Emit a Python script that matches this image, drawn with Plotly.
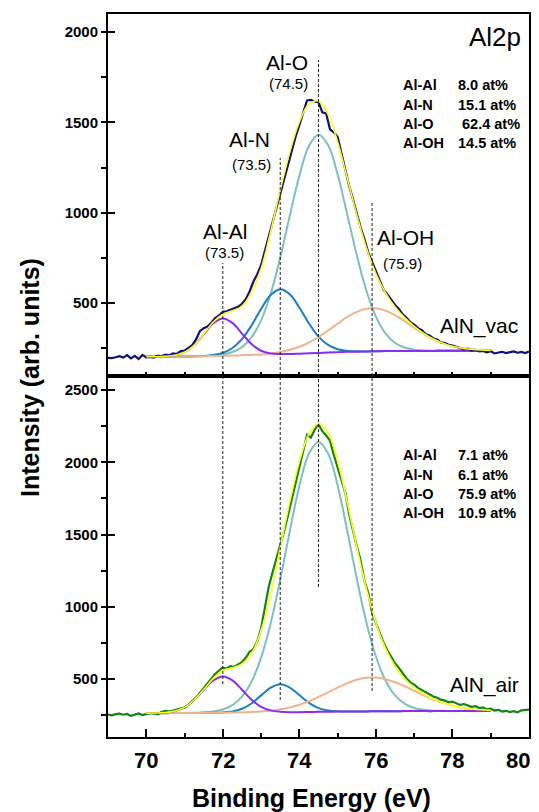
import plotly.graph_objects as go

# ---------------- data ----------------
FIT_START, FIT_STEP, FIT_N = 70.0, 0.25, 37
RAW_START, RAW_STEP, RAW_N = 69.0, 0.1, 111
fit_energy = [round(FIT_START + FIT_STEP * i, 2) for i in range(FIT_N)]
raw_energy = [round(RAW_START + RAW_STEP * i, 2) for i in range(RAW_N)]

x_tick_vals = [70, 72, 74, 76, 78, 80]
x_tick_text = ["70", "72", "74", "76", "78", "80"]

# AlN_vac (upper panel)
vac_raw = [198, 196, 201, 207, 199, 213, 195, 209, 191, 214,
           200, 203, 199, 210, 206, 215, 211, 222, 219, 235,
           238, 251, 268, 300, 345, 362, 371, 392, 418, 432,
           452, 455, 463, 472, 480, 497, 522, 565, 620, 660,
           710, 790, 870, 950, 1020, 1095, 1185, 1270, 1340, 1420,
           1485, 1560, 1622, 1625, 1616, 1612, 1556, 1550, 1462, 1445,
           1420, 1330, 1235, 1150, 1075, 995, 920, 855, 780, 728,
           680, 622, 575, 548, 516, 490, 468, 438, 420, 395,
           382, 362, 351, 330, 322, 305, 299, 283, 279, 270,
           266, 258, 254, 245, 249, 238, 242, 233, 236, 228,
           234, 222, 227, 231, 224, 229, 233, 226, 230, 224,
           232]
vac_envelope = [204, 204, 206, 212, 229, 267, 329, 396, 439, 458,
                482, 560, 690, 896, 1126, 1337, 1503, 1601, 1618, 1544,
                1392, 1194, 989, 807, 663, 557, 479, 420, 372, 333,
                302, 279, 262, 251, 245, 241, 239]
vac_al_al = [204, 204, 206, 212, 229, 267, 327, 389, 416, 391,
             332, 274, 237, 222, 219, 219, 221, 223, 225, 227,
             229, 231, 232, 233, 234, 235, 235, 236, 236, 236,
             236, 237, 237, 237, 237, 237, 237]
vac_al_n = [204, 204, 204, 205, 205, 206, 208, 213, 225, 252,
            301, 377, 468, 545, 577, 549, 476, 388, 315, 269,
            245, 236, 234, 233, 234, 235, 235, 236, 236, 236,
            236, 237, 237, 237, 237, 237, 237]
vac_al_o = [204, 204, 204, 205, 205, 206, 208, 210, 216, 230,
            257, 311, 405, 552, 752, 984, 1205, 1370, 1432, 1375,
            1212, 992, 766, 570, 426, 333, 280, 255, 243, 238,
            237, 237, 237, 237, 237, 237, 237]
vac_al_oh = [204, 204, 204, 205, 205, 206, 207, 208, 209, 210,
             212, 214, 216, 222, 230, 242, 259, 282, 313, 349,
             387, 424, 452, 469, 472, 459, 434, 401, 365, 330,
             301, 279, 262, 251, 245, 241, 239]

# AlN_air (lower panel)
air_raw = [255, 250, 258, 262, 254, 259, 246, 257, 263, 252,
           260, 266, 263, 257, 272, 281, 276, 283, 288, 296,
           303, 322, 345, 372, 405, 438, 470, 505, 535, 560,
           580, 574, 590, 586, 603, 618, 648, 690, 708, 760,
           850, 995, 1140, 1240, 1330, 1420, 1520, 1630, 1740, 1850,
           1960, 2080, 2190, 2170, 2225, 2262, 2215, 2185, 2150, 2050,
           1965, 1880, 1790, 1640, 1520, 1420, 1320, 1180, 1096, 960,
           890, 820, 752, 700, 650, 610, 578, 540, 505, 478,
           462, 440, 425, 410, 395, 380, 372, 358, 352, 340,
           345, 332, 322, 328, 318, 309, 314, 300, 305, 291,
           296, 283, 288, 276, 281, 272, 279, 270, 284, 288,
           290]
air_envelope = [265, 266, 269, 280, 305, 356, 428, 505, 560, 578,
                606, 675, 835, 1084, 1408, 1729, 2005, 2196, 2269, 2204,
                2009, 1724, 1414, 1126, 890, 713, 589, 503, 442, 396,
                362, 337, 317, 303, 294, 288, 284]
air_al_al = [265, 266, 269, 280, 305, 355, 425, 491, 519, 492,
             427, 358, 309, 284, 275, 272, 272, 273, 274, 275,
             276, 276, 277, 277, 278, 278, 278, 279, 279, 279,
             279, 280, 280, 280, 280, 280, 280]
air_al_n = [265, 265, 265, 266, 266, 266, 267, 267, 270, 277,
            295, 332, 388, 441, 465, 442, 390, 336, 300, 284,
            278, 276, 277, 277, 278, 278, 278, 279, 279, 279,
            279, 280, 280, 280, 280, 280, 280]
air_al_o = [265, 265, 265, 266, 266, 267, 270, 276, 290, 320,
            379, 482, 649, 887, 1189, 1523, 1836, 2059, 2140, 2061,
            1840, 1528, 1195, 894, 657, 491, 388, 331, 301, 288,
            282, 281, 280, 280, 280, 280, 280]
air_al_oh = [265, 265, 265, 266, 266, 266, 267, 267, 268, 269,
             271, 273, 277, 282, 292, 305, 323, 347, 377, 409,
             442, 472, 496, 509, 511, 500, 479, 452, 420, 388,
             359, 336, 317, 303, 294, 288, 284]

for arr in (vac_raw, air_raw):
    assert len(arr) == RAW_N
for arr in (vac_envelope, vac_al_al, vac_al_n, vac_al_o, vac_al_oh,
            air_envelope, air_al_al, air_al_n, air_al_o, air_al_oh):
    assert len(arr) == FIT_N

peak_positions = [72.0, 73.5, 74.5, 75.9]
table_labels = ["Al-Al", "Al-N", "Al-O", "Al-OH"]
vac_percent = ["8.0 at%", "15.1 at%", "\u00a062.4 at%", "14.5 at%"]
air_percent = ["7.1 at%", "6.1 at%", "75.9 at%", "10.9 at%"]

# ---------------- style ----------------
FONT = "Liberation Sans, Arial, sans-serif"
C_VAC = "#10107c"
C_AIR = "#118411"
C_ENV = "#ffff1a"
C_ALO = "#7fbfbf"
C_ALN = "#1b7fc2"
C_ALAL = "#8c2cf2"
C_ALOH = "#eeb48e"

PLOT_L, PLOT_R, PLOT_T, PLOT_B = 108, 529, 14, 737
W, H = 539, 812


def px_x(px):
    return (px - PLOT_L) / (PLOT_R - PLOT_L)


def px_y(py):
    return (PLOT_B - py) / (PLOT_B - PLOT_T)


fig = go.Figure()

panels = [
    ("x", "y", vac_raw, C_VAC, vac_envelope, vac_al_o, vac_al_n, vac_al_oh, vac_al_al),
    ("x2", "y2", air_raw, C_AIR, air_envelope, air_al_o, air_al_n, air_al_oh, air_al_al),
]
for xa, ya, raw, rawc, env, alo, aln, aloh, alal in panels:
    for comp, col in ((alo, C_ALO), (aln, C_ALN), (aloh, C_ALOH), (alal, C_ALAL)):
        fig.add_trace(go.Scatter(x=fit_energy, y=comp, mode="lines", xaxis=xa, yaxis=ya,
                                 line=dict(color=col, width=2, shape="spline"), hoverinfo="skip"))
    fig.add_trace(go.Scatter(x=raw_energy, y=raw, mode="lines", xaxis=xa, yaxis=ya,
                             line=dict(color=rawc, width=2.2)))
    fig.add_trace(go.Scatter(x=fit_energy, y=env, mode="lines", xaxis=xa, yaxis=ya,
                             line=dict(color=C_ENV, width=1.6, shape="spline")))

axis_line = dict(showline=True, linecolor="black", linewidth=2, mirror=True, automargin=False,
                 showgrid=False, zeroline=False, tickcolor="black", tickwidth=1.5)
x_common = dict(axis_line, range=[69, 80], tickmode="array", tickvals=x_tick_vals,
                ticks="inside", showticklabels=False,
                minor=dict(dtick=1, tick0=0, ticks="inside", ticklen=4, tickwidth=1.5,
                           tickcolor="black", showgrid=False))
y_common = dict(axis_line, dtick=500, tick0=0, ticks="inside", ticklen=7,
                tickfont=dict(family=FONT, size=15, color="black", weight="bold"),
                ticklabelstandoff=5,
                minor=dict(dtick=250, tick0=0, ticks="outside", ticklen=5,
                           tickwidth=1.5, tickcolor="black", showgrid=False))

fig.update_layout(
    width=W, height=H,
    margin=dict(l=PLOT_L, r=W - PLOT_R, t=PLOT_T, b=H - PLOT_B, autoexpand=False),
    paper_bgcolor="white", plot_bgcolor="white", showlegend=False,
    font=dict(family=FONT, color="black"),
    xaxis=dict(x_common, anchor="y", ticklen=4),
    yaxis=dict(y_common, domain=[0.5, 1], range=[100, 2100], anchor="x"),
    xaxis2=dict(x_common, anchor="y2", ticklen=8),
    yaxis2=dict(y_common, domain=[0, 0.5], range=[100, 2600], anchor="x2"),
)

# dashed guide lines (energy, top pixel, bottom pixel)
guide_extent = [(263, 684), (158, 700), (60, 587), (203, 691)]
for e, (top, bot) in zip(peak_positions, guide_extent):
    fig.add_shape(type="line", xref="x", yref="paper", x0=e, x1=e,
                  y0=px_y(bot), y1=px_y(top), layer="above",
                  line=dict(color="#222222", width=1, dash="3px,2px"))

annos = []


def add_text(text, cx, cy, size, bold=False, xanchor="center"):
    annos.append(dict(text=text, xref="paper", yref="paper", x=px_x(cx), y=px_y(cy),
                      xanchor=xanchor, yanchor="middle", showarrow=False,
                      font=dict(family=FONT, size=size, color="black",
                                weight="bold" if bold else "normal")))


# bottom tick labels (last one kept inside the page, as in the original)
for i, (tv, tt) in enumerate(zip(x_tick_vals, x_tick_text)):
    last = i == len(x_tick_vals) - 1
    annos.append(dict(text=tt, xref="x2", yref="paper", x=tv, y=px_y(760.5),
                      xanchor="right" if last else "center", yanchor="middle",
                      xshift=3 if last else 0, showarrow=False,
                      font=dict(family=FONT, size=22, color="black", weight="bold")))

add_text("Al2p", 523, 37, 26, xanchor="right")
add_text("Al-O", 287, 63, 21)
add_text("(74.5)", 288, 84, 15)
add_text("Al-N", 249, 139, 21)
add_text("(73.5)", 251, 164, 15)
add_text("Al-Al", 225, 231, 21)
add_text("(73.5)", 224, 252, 15)
add_text("Al-OH", 405, 237, 21)
add_text("(75.9)", 402, 263, 15)
add_text("AlN_vac", 479, 326, 21)
add_text("AlN_air", 484, 685, 21)

vac_rows_y = [85, 104.5, 123.5, 143]
air_rows_y = [455, 475, 494, 513]
for lab, pv, pa, yv, ya in zip(table_labels, vac_percent, air_percent, vac_rows_y, air_rows_y):
    add_text(lab, 401, yv, 14.5, bold=True, xanchor="left")
    add_text(pv, 456, yv, 14.5, bold=True, xanchor="left")
    add_text(lab, 401, ya, 14.5, bold=True, xanchor="left")
    add_text(pa, 456, ya, 14.5, bold=True, xanchor="left")

# axis titles
annos.append(dict(text="Binding Energy (eV)", xref="paper", yref="paper",
                  x=px_x(311), y=px_y(798), xanchor="center", yanchor="middle",
                  showarrow=False, font=dict(family=FONT, size=25, color="black", weight="bold")))
annos.append(dict(text="Intensity (arb. units)", xref="paper", yref="paper",
                  x=px_x(30), y=px_y(378), xanchor="center", yanchor="middle", textangle=-90,
                  showarrow=False, font=dict(family=FONT, size=25, color="black", weight="bold")))

fig.update_layout(annotations=annos)

fig.write_html("out.html", config={"displayModeBar": False},
               post_script="document.body.style.margin='0';")
